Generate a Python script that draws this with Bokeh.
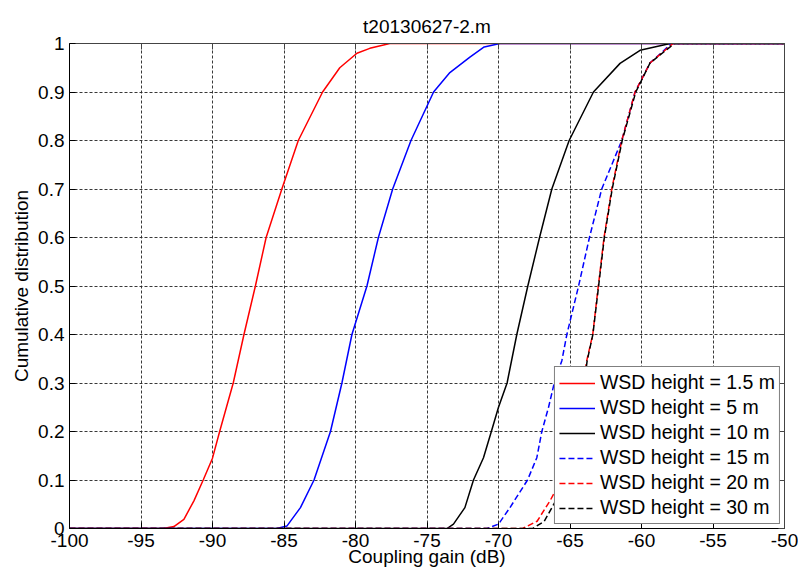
from bokeh.plotting import figure
from bokeh.models import Range1d, LinearAxis, FixedTicker, Legend
from bokeh.embed import file_html
from bokeh.resources import INLINE

FONT = "Liberation Sans"

title_text = "t20130627-2.m"
x_label = "Coupling gain (dB)"
y_label = "Cumulative distribution"

x_ticks = [-100, -95, -90, -85, -80, -75, -70, -65, -60, -55, -50]
x_tick_labels = ["-100", "-95", "-90", "-85", "-80", "-75", "-70", "-65", "-60", "-55", "-50"]
y_ticks = [0, 0.1, 0.2, 0.3, 0.4, 0.5, 0.6, 0.7, 0.8, 0.9, 1]
y_tick_labels = ["0", "0.1", "0.2", "0.3", "0.4", "0.5", "0.6", "0.7", "0.8", "0.9", "1"]

series_names = ["WSD height = 1.5 m", "WSD height = 5 m", "WSD height = 10 m",
                "WSD height = 15 m", "WSD height = 20 m", "WSD height = 30 m"]

# 1.5 m
h15_x = [-100, -93.45, -92.7, -92.0, -91.3, -90.65, -90.0, -89.5, -88.55, -87.8, -87.0,
         -86.25, -85.15, -84.0, -82.3, -81.1, -79.9, -79.0, -77.6, -50]
h15_y = [0, 0, 0.004, 0.019, 0.057, 0.1, 0.145, 0.2, 0.3, 0.4, 0.5,
         0.6, 0.7, 0.8, 0.9, 0.95, 0.98, 0.99, 1, 1]
# 5 m
h5_x = [-100, -85.5, -84.8, -83.85, -82.9, -81.75, -80.95, -80.25, -79.2, -78.4, -77.4,
        -76.12, -74.54, -73.4, -72.0, -71.0, -69.9, -50]
h5_y = [0, 0, 0.005, 0.043, 0.1, 0.2, 0.3, 0.4, 0.5, 0.6, 0.7,
        0.8, 0.9, 0.94, 0.972, 0.993, 1, 1]
# 10 m
h10_x = [-100, -73.6, -73.15, -72.35, -71.75, -71.05, -70.5, -70.0, -69.4, -68.72, -67.95,
         -67.13, -66.27, -65.06, -63.36, -61.5, -60.1, -58.0, -50]
h10_y = [0, 0, 0.009, 0.043, 0.1, 0.146, 0.2, 0.25, 0.3, 0.4, 0.5,
         0.6, 0.7, 0.8, 0.9, 0.959, 0.986, 1, 1]
# 15 m
h15m_x = [-100, -70.8, -70.0, -69.2, -67.97, -67.32, -66.97, -66.5, -66.1, -65.57, -65.22,
          -64.4, -63.64, -62.78, -61.38, -60.45, -59.4, -57.9, -50]
h15m_y = [0, 0, 0.009, 0.043, 0.1, 0.146, 0.2, 0.25, 0.3, 0.346, 0.4,
          0.5, 0.6, 0.7, 0.8, 0.9, 0.96, 1, 1]
# 20 m
h20_x = [-100, -68.3, -67.3, -66.4, -65.6, -65.0, -64.6, -64.3, -64.05, -63.83, -63.41,
         -63.02, -62.62, -62.08, -61.38, -60.45, -59.4, -57.8, -50]
h20_y = [0, 0, 0.015, 0.057, 0.1, 0.15, 0.2, 0.25, 0.3, 0.346, 0.4,
         0.5, 0.6, 0.7, 0.8, 0.9, 0.96, 1, 1]
# 30 m
h30_x = [-100, -67.6, -66.8, -66.0, -65.3, -64.85, -64.5, -64.25, -64.0, -63.8, -63.4,
         -63.0, -62.6, -62.05, -61.35, -60.4, -59.4, -57.7, -50]
h30_y = [0, 0, 0.015, 0.057, 0.1, 0.15, 0.2, 0.25, 0.3, 0.346, 0.4,
         0.5, 0.6, 0.7, 0.8, 0.9, 0.96, 1, 1]

colors = ["#ff0000", "#0000ff", "#000000", "#0000ff", "#ff0000", "#000000"]
dashes = ["solid", "solid", "solid", "6 3", "6 3", "6 3"]
xs = [h15_x, h5_x, h10_x, h15m_x, h20_x, h30_x]
ys = [h15_y, h5_y, h10_y, h15m_y, h20_y, h30_y]

p = figure(width=798, height=574, x_range=Range1d(-100, -50), y_range=Range1d(0, 1),
           output_backend="svg", toolbar_location=None,
           min_border_left=69, min_border_right=14, min_border_top=43, min_border_bottom=46)
p.background_fill_color = "white"
p.border_fill_color = "white"
p.outline_line_color = None

p.title.text = title_text
p.title.align = "center"
p.title.text_font = FONT
p.title.text_font_size = "19px"
p.title.text_font_style = "normal"
p.title.text_color = "black"
p.title.standoff = 14

xt = FixedTicker(ticks=x_ticks)
yt = FixedTicker(ticks=y_ticks)

for ax in p.xaxis:
    ax.ticker = xt
    ax.major_label_overrides = dict(zip(x_ticks, x_tick_labels))
    ax.axis_label = x_label
    ax.axis_label_standoff = -4
for ax in p.yaxis:
    ax.ticker = yt
    ax.major_label_overrides = dict(zip(y_ticks, y_tick_labels))
    ax.axis_label = y_label
    ax.axis_label_standoff = 3

for ax in list(p.xaxis) + list(p.yaxis):
    ax.major_tick_in = 6
    ax.major_tick_out = 0
    ax.minor_tick_line_color = None
    ax.axis_line_color = "black"
    ax.major_tick_line_color = "black"
    ax.major_label_text_font = FONT
    ax.major_label_text_font_size = "19px"
    ax.major_label_text_color = "black"
    ax.axis_label_text_font = FONT
    ax.axis_label_text_font_size = "19px"
    ax.axis_label_text_font_style = "normal"
    ax.axis_label_text_color = "black"
    ax.major_label_standoff = 5

top = LinearAxis(ticker=xt, major_label_text_font_size="1px", major_label_text_color=None,
                 major_label_standoff=0,
                 major_tick_in=6, major_tick_out=0, minor_tick_line_color=None,
                 axis_line_color="#444444", major_tick_line_color="#444444")
right = LinearAxis(ticker=yt, major_label_text_font_size="1px", major_label_text_color=None,
                   major_label_standoff=0,
                   major_tick_in=6, major_tick_out=0, minor_tick_line_color=None,
                   axis_line_color="#444444", major_tick_line_color="#444444")
p.add_layout(top, "above")
p.add_layout(right, "right")

p.xgrid.ticker = xt
p.ygrid.ticker = yt
for g in (p.xgrid, p.ygrid):
    g.grid_line_color = "#222222"
    g.grid_line_dash = "3 2"
    g.grid_line_width = 1
    g.grid_line_alpha = 0.9

items = []
for name, c, d, x, y in zip(series_names, colors, dashes, xs, ys):
    r = p.line(x, y, line_color=c, line_dash=d, line_width=1.5)
    items.append((name, [r]))

legend = Legend(items=items, location="bottom_right")
legend.label_text_font = FONT
legend.label_text_font_size = "19.5px"
legend.label_text_color = "black"
legend.glyph_width = 36
legend.glyph_height = 20
legend.label_height = 20
legend.spacing = 2
legend.padding = 4
legend.margin = 4
legend.label_standoff = 5
legend.border_line_color = "black"
legend.border_line_width = 1
legend.background_fill_color = "white"
legend.background_fill_alpha = 1
p.add_layout(legend, "center")

open("out.html", "w").write(file_html(p, INLINE))
